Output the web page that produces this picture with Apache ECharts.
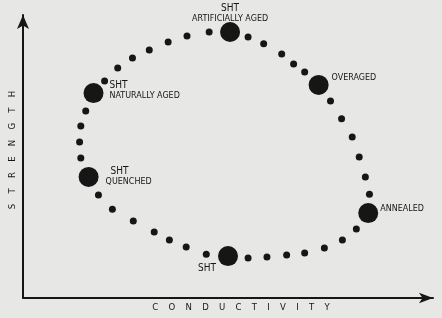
<!DOCTYPE html>
<html>
<head>
<meta charset="utf-8">
<script src="https://cdn.jsdelivr.net/npm/echarts@6/dist/echarts.min.js"></script>
<style>
html, body { margin: 0; padding: 0; background: #e7e7e5; }
#chart { width: 442px; height: 318px; }
</style>
</head>
<body>
<div id="chart"></div>
<script>
// small dots tracing the loop (conductivity, strength), arbitrary 0-100 units
const pathConductivity = [44.7, 39.8, 35.7, 32.0, 26.9, 21.8, 18.4, 14.1, 13.8, 14.1, 15.3,
    19.9, 23.1, 26.7, 30.8, 35.4, 40.0, 45.4, 54.9, 58.7, 63.1, 66.0, 68.7,
    75.0, 77.7, 80.3, 82.0, 83.5, 84.5, 81.3, 77.9, 73.5, 68.7, 64.3, 59.5, 54.9];
const pathStrength = [15.5, 18.0, 20.5, 23.3, 27.2, 31.4, 36.4, 49.5, 55.1, 60.8, 66.1,
    76.7, 81.3, 84.8, 87.6, 90.5, 92.6, 94.0, 92.2, 89.8, 86.2, 82.7, 79.9,
    69.6, 63.3, 56.9, 49.8, 42.8, 36.7, 24.4, 20.5, 17.7, 15.9, 15.2, 14.5, 14.1];

// temper states (big dots)
const stateTitle = ['SHT', '', '', 'SHT', 'SHT', 'SHT'];
const stateNote = ['ARTIFICIALLY AGED', 'OVERAGED', 'ANNEALED', '', 'QUENCHED', 'NATURALLY AGED'];
const stateConductivity = [50.5, 72.1, 84.2, 50.0, 16.0, 17.2];
const stateStrength = [94.0, 75.3, 30.0, 14.8, 42.8, 72.4];

const xName = 'CONDUCTIVITY';
const yName = 'STRENGTH';

const ink = '#161616';
const titleFont = '"DejaVu Sans Condensed", "DejaVu Sans", sans-serif';
const noteFont = '"DejaVu Sans", sans-serif';

// where each state's label sits relative to its dot
const labelPlace = [
    { position: 'top', distance: -2, align: 'center', verticalAlign: 'bottom' },
    { position: 'inside', align: 'left', verticalAlign: 'middle', offset: [13, -7] },
    { position: 'inside', align: 'left', verticalAlign: 'middle', offset: [12, -4] },
    { position: 'inside', align: 'center', verticalAlign: 'middle', offset: [-21, 12] },
    { position: 'inside', align: 'left', verticalAlign: 'middle', offset: [17, 0] },
    { position: 'inside', align: 'left', verticalAlign: 'middle', offset: [16, -3] }
];

function spaced(s) {
    return s.split('').join('\u2003\u2009');
}

let myChart = echarts.init(document.getElementById('chart'), null, { renderer: 'canvas' });

let option = {
    backgroundColor: '#e7e7e5',
    animation: false,
    grid: {
        left: 21,
        right: 9,
        top: 15,
        bottom: 20
    },
    xAxis: {
        type: 'value',
        min: 0,
        max: 100,
        name: spaced(xName),
        nameLocation: 'middle',
        nameGap: 5,
        nameTextStyle: {
            color: ink,
            fontFamily: titleFont,
            fontSize: 9.5,
            verticalAlign: 'top',
            padding: [0, 0, 0, 26]
        },
        axisLine: {
            lineStyle: { color: ink, width: 2 },
            symbol: ['none', 'arrow'],
            symbolSize: [8, 14]
        },
        axisTick: { show: false },
        axisLabel: { show: false },
        splitLine: { show: false }
    },
    yAxis: {
        type: 'value',
        min: 0,
        max: 100,
        name: spaced(yName),
        nameLocation: 'middle',
        nameRotate: 90,
        nameGap: 5,
        nameTextStyle: {
            color: ink,
            fontFamily: titleFont,
            fontSize: 9.5,
            padding: [0, 0, 0, 13]
        },
        axisLine: {
            lineStyle: { color: ink, width: 2 },
            symbol: ['none', 'arrow'],
            symbolSize: [9, 14]
        },
        axisTick: { show: false },
        axisLabel: { show: false },
        splitLine: { show: false }
    },
    series: [
        {
            name: 'path',
            type: 'scatter',
            symbolSize: 7,
            itemStyle: { color: ink, opacity: 1 },
            data: pathConductivity.map((x, i) => [x, pathStrength[i]])
        },
        {
            name: 'states',
            type: 'scatter',
            symbolSize: 20,
            itemStyle: { color: ink, opacity: 1 },
            data: stateConductivity.map((x, i) => ({
                value: [x, stateStrength[i]],
                label: Object.assign({
                    show: true,
                    formatter: () => {
                        let parts = [];
                        if (stateTitle[i]) parts.push('{t|' + stateTitle[i] + '}');
                        if (stateNote[i]) parts.push('{n|' + stateNote[i] + '}');
                        return parts.join('\n');
                    },
                    rich: {
                        t: {
                            color: ink,
                            fontFamily: titleFont,
                            fontSize: 10,
                            lineHeight: 11,
                            padding: i === 4 ? [0, 0, 0, 5] : 0
                        },
                        n: {
                            color: ink,
                            fontFamily: noteFont,
                            fontSize: 8,
                            lineHeight: 10
                        }
                    }
                }, labelPlace[i])
            }))
        }
    ]
};

myChart.setOption(option);
</script>
</body>
</html>
